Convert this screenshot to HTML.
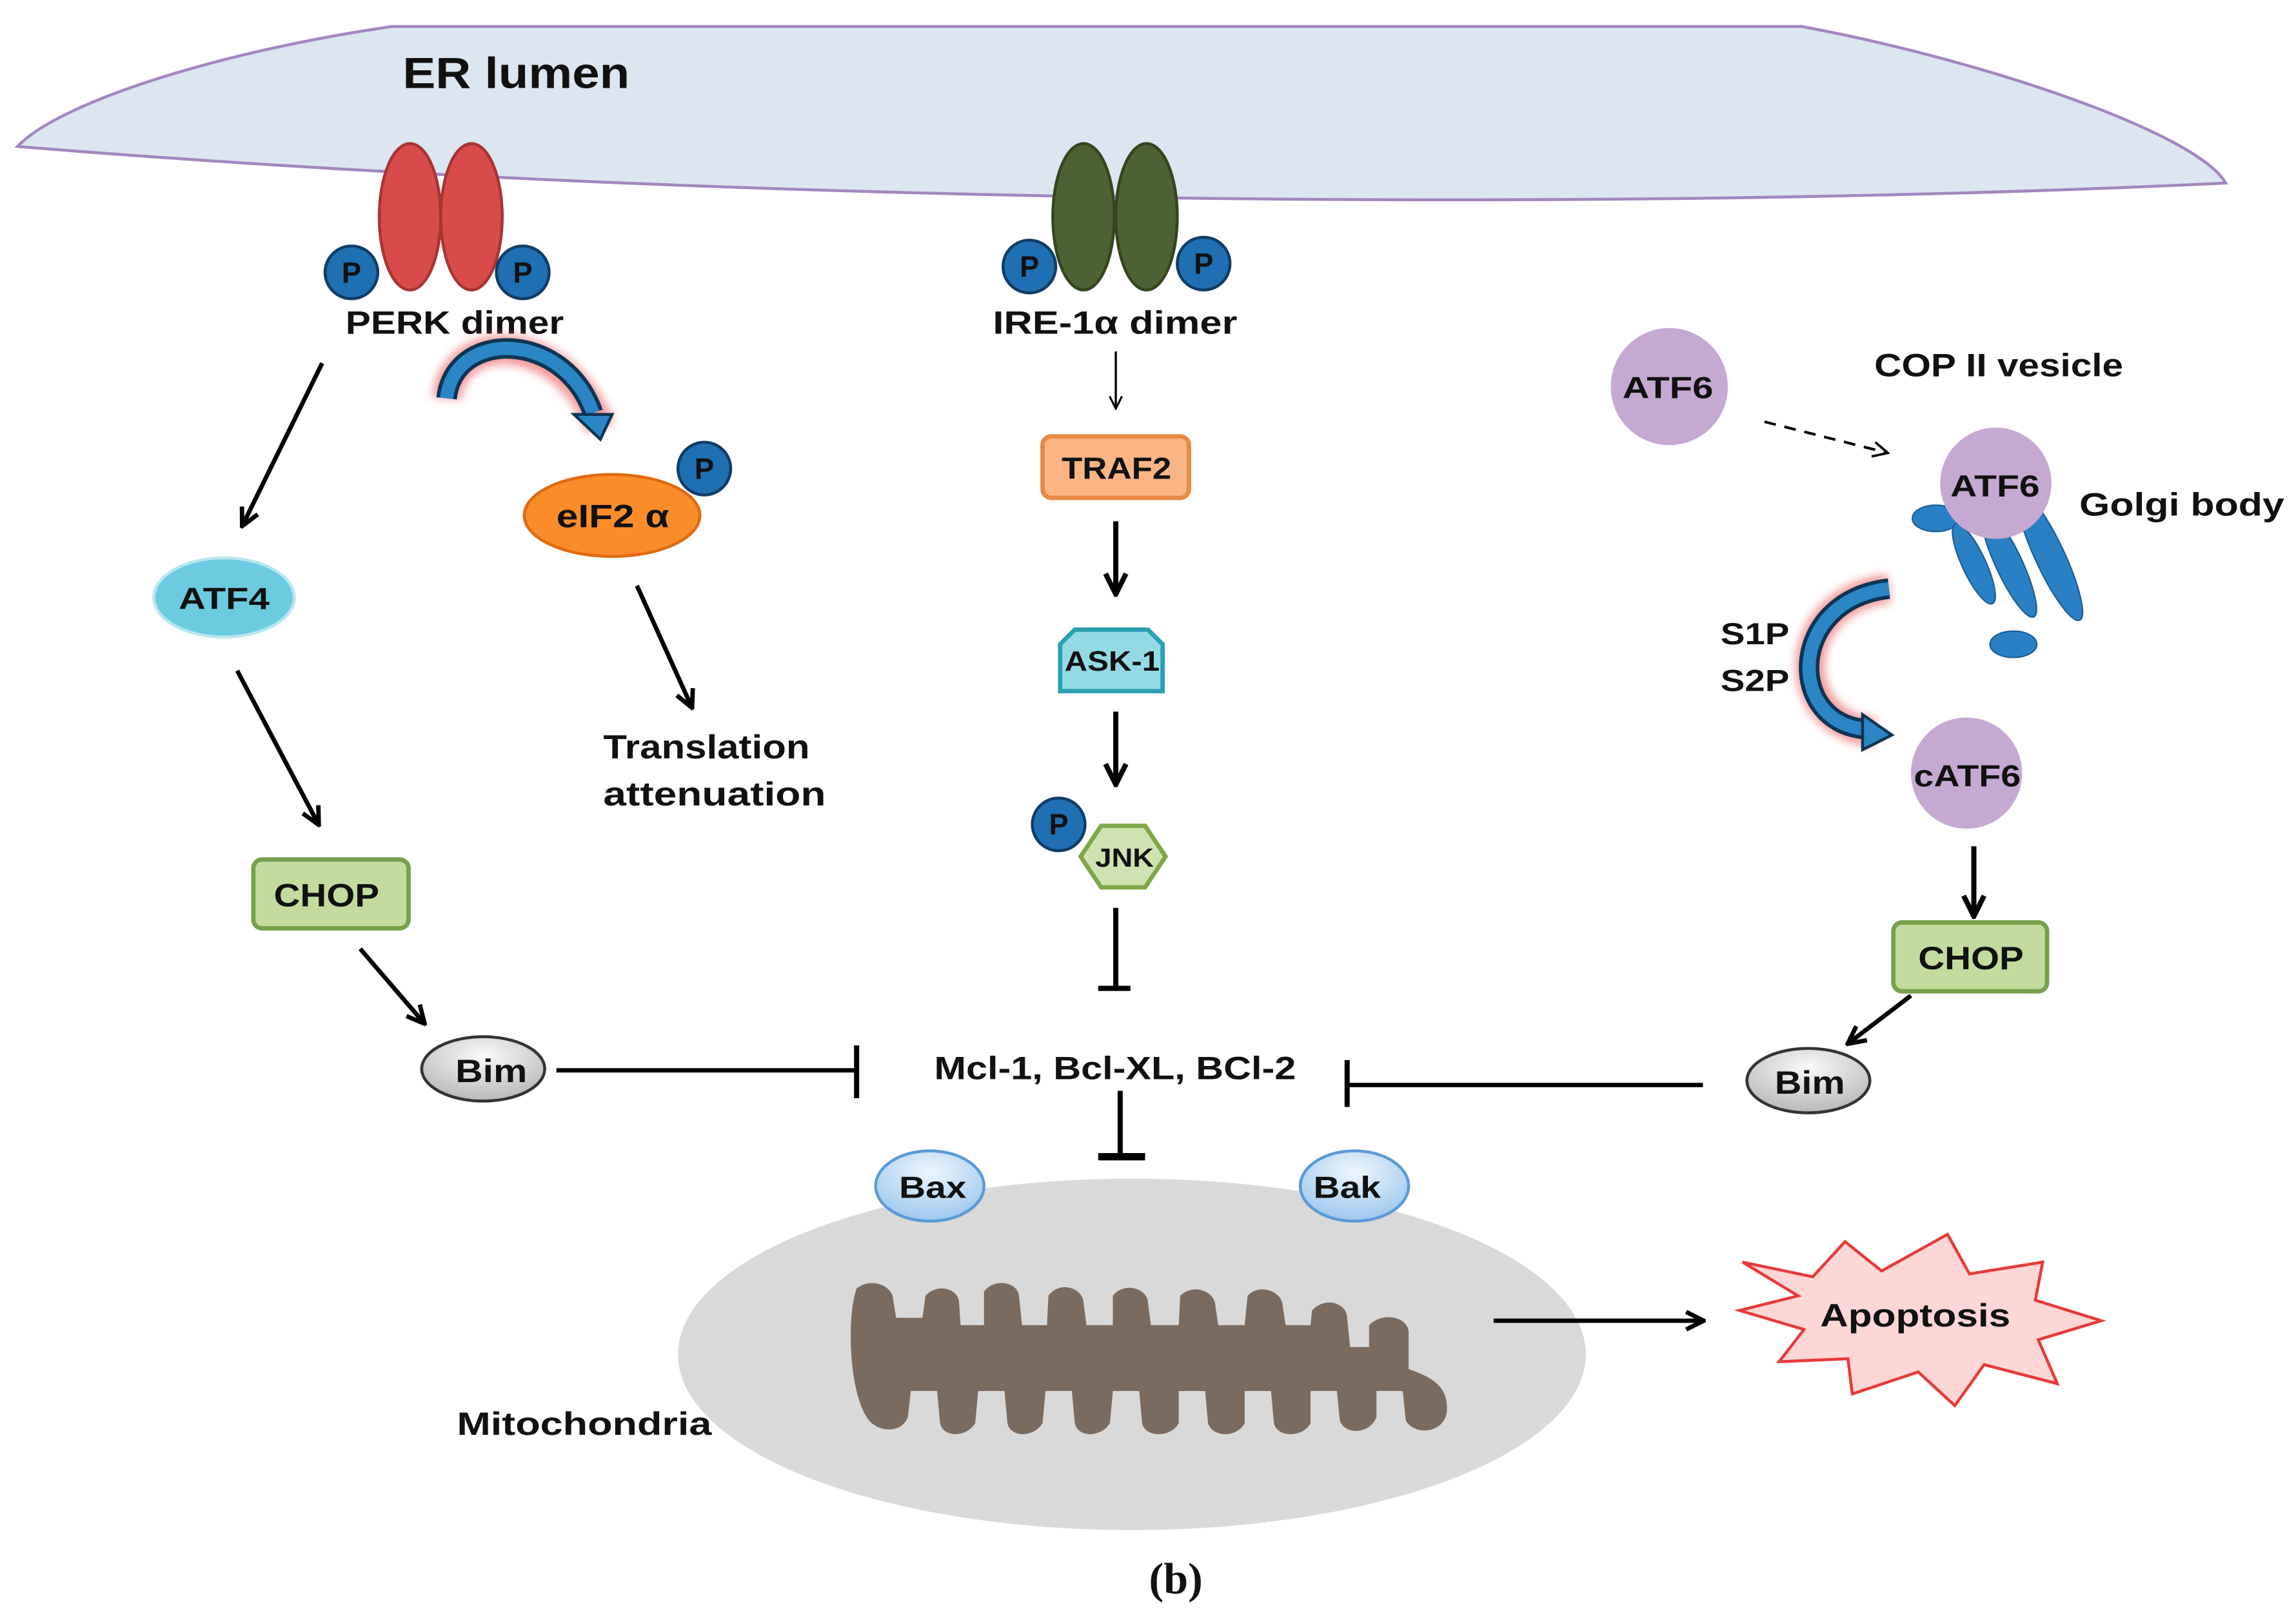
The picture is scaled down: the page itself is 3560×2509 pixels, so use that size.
<!DOCTYPE html>
<html><head><meta charset="utf-8"><style>
html,body{margin:0;padding:0;background:#fff}
svg{display:block}
text{font-family:"Liberation Sans",sans-serif;font-weight:bold;fill:#111}
</style></head><body>
<svg width="3560" height="2509" viewBox="0 0 1568 1105" xmlns="http://www.w3.org/2000/svg">
<defs>
<marker id="ah" viewBox="0 0 10 10" refX="8" refY="5" markerWidth="5" markerHeight="5" orient="auto"><path d="M1,1 L9,5 L1,9" fill="none" stroke="#000" stroke-width="2"/></marker>
<marker id="ah2" viewBox="0 0 10 10" refX="8" refY="5" markerWidth="7" markerHeight="7" orient="auto"><path d="M1,1 L9,5 L1,9" fill="none" stroke="#000" stroke-width="1.3"/></marker>
<radialGradient id="gb" cx="0.5" cy="0.3" r="0.7"><stop offset="0" stop-color="#fafafa"/><stop offset="1" stop-color="#b8b8b8"/></radialGradient>
<radialGradient id="bb" cx="0.5" cy="0.3" r="0.7"><stop offset="0" stop-color="#eef6fd"/><stop offset="1" stop-color="#9cc8ef"/></radialGradient>
<filter id="glow" x="-30%" y="-30%" width="160%" height="160%"><feGaussianBlur stdDeviation="3"/></filter>
</defs>
<path d="M268,18 L1230,18 C1350,40 1500,90 1520,125 C1100,145 500,140 12,100 C40,70 150,35 268,18 Z" fill="#dce6f1" stroke="#a386c0" stroke-width="2"/>
<text x="275" y="60" font-size="30" textLength="155" lengthAdjust="spacingAndGlyphs">ER lumen</text>
<ellipse cx="280" cy="148" rx="21" ry="50" fill="#d94b4b" stroke="#a83434" stroke-width="2"/>
<ellipse cx="322" cy="148" rx="21" ry="50" fill="#d94b4b" stroke="#a83434" stroke-width="2"/>
<g font-size="20"><circle cx="240" cy="186" r="18" fill="#1f6fb3" stroke="#0f3d66" stroke-width="2"/><text x="240" y="193" text-anchor="middle">P</text>
<circle cx="357" cy="186" r="18" fill="#1f6fb3" stroke="#0f3d66" stroke-width="2"/><text x="357" y="193" text-anchor="middle">P</text></g>
<text x="236" y="228" font-size="22" textLength="149" lengthAdjust="spacingAndGlyphs">PERK dimer</text>
<ellipse cx="740" cy="148" rx="21" ry="50" fill="#4d6232" stroke="#34451f" stroke-width="2"/>
<ellipse cx="783" cy="148" rx="21" ry="50" fill="#4d6232" stroke="#34451f" stroke-width="2"/>
<g font-size="20"><circle cx="703" cy="182" r="18" fill="#1f6fb3" stroke="#0f3d66" stroke-width="2"/><text x="703" y="189" text-anchor="middle">P</text>
<circle cx="822" cy="180" r="18" fill="#1f6fb3" stroke="#0f3d66" stroke-width="2"/><text x="822" y="187" text-anchor="middle">P</text></g>
<text x="678" y="228" font-size="22" textLength="167" lengthAdjust="spacingAndGlyphs">IRE-1α dimer</text>
<line x1="762" y1="240" x2="762" y2="278" stroke="#000" stroke-width="1.5" marker-end="url(#ah2)"/>
<rect x="712" y="298" width="100" height="42" rx="6" fill="#fbb585" stroke="#e88a45" stroke-width="3"/>
<text x="725" y="327" font-size="21" textLength="75" lengthAdjust="spacingAndGlyphs">TRAF2</text>
<line x1="762" y1="356" x2="762" y2="404" stroke="#000" stroke-width="3.5" marker-end="url(#ah)"/>
<path d="M734,430 L784,430 L794,440 L794,472 L724,472 L724,440 Z" fill="#93d9e6" stroke="#2aa0b2" stroke-width="3"/>
<text x="727" y="458" font-size="19" textLength="65" lengthAdjust="spacingAndGlyphs">ASK-1</text>
<line x1="762" y1="486" x2="762" y2="534" stroke="#000" stroke-width="3.5" marker-end="url(#ah)"/>
<path d="M752,564 L782,564 L796,585 L782,606 L752,606 L738,585 Z" fill="#cfe3b0" stroke="#7fa74a" stroke-width="3"/>
<text x="748" y="592" font-size="18" font-weight="normal" textLength="40" lengthAdjust="spacingAndGlyphs">JNK</text>
<circle cx="723" cy="563" r="18" fill="#1f6fb3" stroke="#0f3d66" stroke-width="2"/><text x="723" y="570" font-size="20" text-anchor="middle">P</text>
<line x1="762" y1="620" x2="762" y2="675" stroke="#000" stroke-width="3.5"/><line x1="750" y1="675" x2="772" y2="675" stroke="#000" stroke-width="3.5"/>
<text x="638" y="737" font-size="22" textLength="247" lengthAdjust="spacingAndGlyphs">Mcl-1, Bcl-XL, BCl-2</text>
<line x1="765" y1="745" x2="765" y2="790" stroke="#000" stroke-width="3.5"/><line x1="750" y1="790" x2="782" y2="790" stroke="#000" stroke-width="5"/>
<line x1="220" y1="248" x2="166" y2="358" stroke="#000" stroke-width="3" marker-end="url(#ah)"/>
<path d="M305,272 C310,225 385,225 410,292" fill="none" stroke="#f08080" stroke-width="20" filter="url(#glow)" opacity="0.8"/>
<path d="M305,272 C310,225 385,225 405,282" fill="none" stroke="#0d3553" stroke-width="14"/>
<path d="M305,272 C310,225 385,225 405,282" fill="none" stroke="#2a86c4" stroke-width="9"/>
<path d="M392,283 L418,283 L410,300 Z" fill="#2a86c4" stroke="#0d3553" stroke-width="2"/>
<ellipse cx="418" cy="352" rx="60" ry="28" fill="#fb8c2a" stroke="#e06a10" stroke-width="2"/>
<text x="380" y="360" font-size="22" textLength="77" lengthAdjust="spacingAndGlyphs">eIF2 α</text>
<circle cx="481" cy="320" r="18" fill="#1f6fb3" stroke="#0f3d66" stroke-width="2"/><text x="481" y="327" font-size="20" text-anchor="middle">P</text>
<line x1="435" y1="400" x2="472" y2="482" stroke="#000" stroke-width="3" marker-end="url(#ah)"/>
<text x="412" y="518" font-size="23" textLength="141" lengthAdjust="spacingAndGlyphs">Translation</text>
<text x="412" y="550" font-size="23" textLength="152" lengthAdjust="spacingAndGlyphs">attenuation</text>
<ellipse cx="153" cy="408" rx="48" ry="27" fill="#6ccbe0" stroke="#b8e6f0" stroke-width="2"/>
<text x="122" y="416" font-size="21" textLength="62" lengthAdjust="spacingAndGlyphs">ATF4</text>
<line x1="162" y1="458" x2="217" y2="562" stroke="#000" stroke-width="3" marker-end="url(#ah)"/>
<rect x="173" y="587" width="106" height="47" rx="6" fill="#c3dc9e" stroke="#77a04a" stroke-width="3"/>
<text x="187" y="619" font-size="22" textLength="72" lengthAdjust="spacingAndGlyphs">CHOP</text>
<line x1="246" y1="648" x2="289" y2="698" stroke="#000" stroke-width="3" marker-end="url(#ah)"/>
<ellipse cx="330" cy="730" rx="42" ry="22" fill="url(#gb)" stroke="#333" stroke-width="2"/>
<text x="311" y="739" font-size="22" textLength="49" lengthAdjust="spacingAndGlyphs">Bim</text>
<line x1="380" y1="731" x2="585" y2="731" stroke="#000" stroke-width="3"/><line x1="585" y1="714" x2="585" y2="750" stroke="#000" stroke-width="3.5"/>
<circle cx="1140" cy="264" r="40" fill="#c6a9d3"/>
<text x="1108" y="272" font-size="21" textLength="62" lengthAdjust="spacingAndGlyphs">ATF6</text>
<text x="1280" y="257" font-size="22" textLength="170" lengthAdjust="spacingAndGlyphs">COP II vesicle</text>
<line x1="1205" y1="288" x2="1288" y2="309" stroke="#000" stroke-width="1.8" stroke-dasharray="8,6" marker-end="url(#ah2)"/>
<g fill="#2a80c4" stroke="#1d5f95" stroke-width="1">
<ellipse cx="1322" cy="354" rx="16" ry="9"/>
<ellipse cx="1348" cy="385" rx="8" ry="30" transform="rotate(-25 1348 385)"/>
<ellipse cx="1372" cy="385" rx="9" ry="40" transform="rotate(-25 1372 385)"/>
<ellipse cx="1400" cy="380" rx="10" ry="48" transform="rotate(-25 1400 380)"/>
<ellipse cx="1375" cy="440" rx="16" ry="9"/>
</g>
<circle cx="1363" cy="330" r="38" fill="#c6a9d3"/>
<text x="1332" y="339" font-size="21" textLength="61" lengthAdjust="spacingAndGlyphs">ATF6</text>
<text x="1420" y="352" font-size="22" textLength="140" lengthAdjust="spacingAndGlyphs">Golgi body</text>
<text x="1175" y="440" font-size="21" textLength="47" lengthAdjust="spacingAndGlyphs">S1P</text>
<text x="1175" y="472" font-size="21" textLength="47" lengthAdjust="spacingAndGlyphs">S2P</text>
<path d="M1290,402 C1220,410 1220,495 1280,500" fill="none" stroke="#f08080" stroke-width="20" filter="url(#glow)" opacity="0.8"/>
<path d="M1290,402 C1220,410 1220,495 1275,498" fill="none" stroke="#0d3553" stroke-width="14"/>
<path d="M1290,402 C1220,410 1220,495 1275,498" fill="none" stroke="#2a86c4" stroke-width="9"/>
<path d="M1272,488 L1292,502 L1272,512 Z" fill="#2a86c4" stroke="#0d3553" stroke-width="2"/>
<circle cx="1343" cy="528" r="38" fill="#c6a9d3"/>
<text x="1307" y="537" font-size="21" textLength="73" lengthAdjust="spacingAndGlyphs">cATF6</text>
<line x1="1348" y1="578" x2="1348" y2="624" stroke="#000" stroke-width="3.5" marker-end="url(#ah)"/>
<rect x="1293" y="630" width="105" height="47" rx="6" fill="#c3dc9e" stroke="#77a04a" stroke-width="3"/>
<text x="1310" y="662" font-size="22" textLength="72" lengthAdjust="spacingAndGlyphs">CHOP</text>
<line x1="1305" y1="680" x2="1263" y2="712" stroke="#000" stroke-width="3" marker-end="url(#ah)"/>
<ellipse cx="1235" cy="738" rx="42" ry="22" fill="url(#gb)" stroke="#333" stroke-width="2"/>
<text x="1212" y="747" font-size="22" textLength="48" lengthAdjust="spacingAndGlyphs">Bim</text>
<line x1="1163" y1="741" x2="920" y2="741" stroke="#000" stroke-width="3"/><line x1="920" y1="724" x2="920" y2="756" stroke="#000" stroke-width="3.5"/>
<ellipse cx="773" cy="925" rx="310" ry="120" fill="#d9d9d9"/>
<path d="M585,880 C595,872 610,878 610,888 L612,900 L630,900 L632,885 C640,876 655,880 655,890 L656,905 L672,905 L672,882 C680,872 696,876 696,886 L698,905 L715,905 L716,885 C724,874 740,880 740,890 L742,905 L760,905 L760,885 C768,875 784,880 784,890 L786,905 L805,905 L806,885 C815,876 830,882 830,892 L832,905 L850,905 L852,885 C860,876 876,882 876,892 L878,905 L895,905 L896,895 C905,885 920,890 920,900 L922,920 L935,920 L935,905 C945,895 962,900 962,910 L962,935 C975,940 990,945 988,965 C985,980 965,980 960,970 L958,950 L940,950 L940,968 C935,980 918,980 915,970 L913,950 L895,950 L895,972 C890,982 872,982 870,972 L868,950 L850,950 L850,972 C845,982 828,982 825,972 L823,950 L805,950 L805,972 C800,982 782,982 780,972 L778,950 L760,950 L758,972 C752,982 736,982 734,972 L732,950 L714,950 L712,972 C706,982 690,982 688,972 L686,950 L668,950 L666,972 C660,982 644,982 642,972 L640,950 L622,950 L620,968 C615,980 598,978 592,968 C580,950 578,900 585,880 Z" fill="#7b6a5e"/>
<text x="312" y="980" font-size="22" textLength="174" lengthAdjust="spacingAndGlyphs">Mitochondria</text>
<ellipse cx="635" cy="810" rx="37" ry="24" fill="url(#bb)" stroke="#5a9ad8" stroke-width="2"/>
<text x="614" y="818" font-size="21" textLength="46" lengthAdjust="spacingAndGlyphs">Bax</text>
<ellipse cx="925" cy="810" rx="37" ry="24" fill="url(#bb)" stroke="#5a9ad8" stroke-width="2"/>
<text x="897" y="818" font-size="21" textLength="46" lengthAdjust="spacingAndGlyphs">Bak</text>
<line x1="1020" y1="902" x2="1162" y2="902" stroke="#000" stroke-width="3" marker-end="url(#ah)"/>
<path d="M1190,862 L1238,872 L1260,848 L1285,868 L1330,843 L1345,870 L1395,862 L1390,888 L1435,902 L1392,915 L1405,945 L1355,932 L1335,960 L1310,937 L1265,952 L1262,928 L1215,930 L1232,908 L1188,895 L1228,885 Z" fill="#fdd6d6" stroke="#e83a3a" stroke-width="2"/>
<text x="1243" y="906" font-size="22" textLength="130" lengthAdjust="spacingAndGlyphs">Apoptosis</text>
<text x="803" y="1088" font-size="30" text-anchor="middle" style="font-family:'Liberation Serif',serif">(<tspan font-weight="bold">b</tspan>)</text>
</svg>
</body></html>
